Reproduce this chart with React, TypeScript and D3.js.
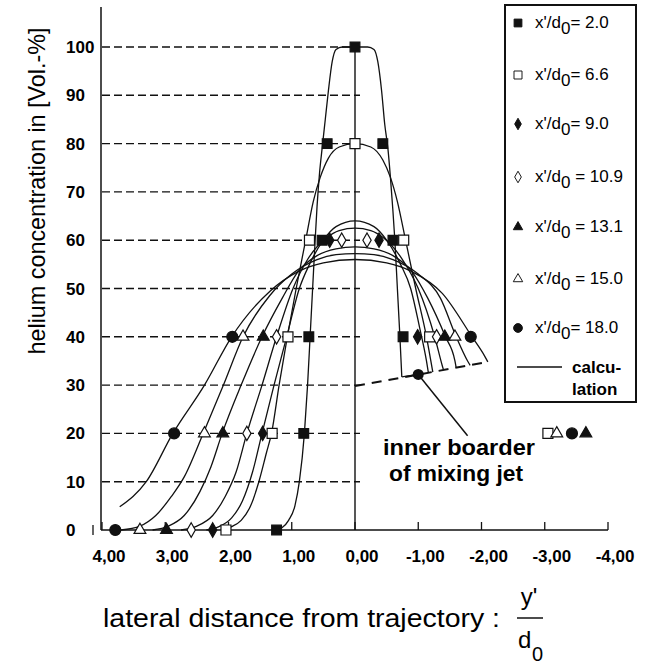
import * as d3 from "d3";

// lateral distance y'/d0 (x) and helium concentration in Vol.-% (y)
const xTicks = [4, 3, 2, 1, 0, -1, -2, -3, -4];
const yTicks = [0, 10, 20, 30, 40, 50, 60, 70, 80, 90, 100];
const xTickLabels = ["4,00", "3,00", "2,00", "1,00", "0,00", "-1,00", "-2,00", "-3,00", "-4,00"];

const seriesLabels = ["= 2.0", "= 6.6", "= 9.0", " = 10.9", " = 13.1", " = 15.0", "= 18.0"];

// measured points
const pts20 = [[0, 100], [0.44, 80], [-0.44, 80], [0.52, 60], [-0.6, 60], [0.73, 40], [-0.76, 40], [0.81, 20], [1.24, 0]];
const pts66 = [[0, 80], [0.72, 60], [-0.77, 60], [1.06, 40], [-1.18, 40], [1.31, 20], [2.04, 0], [-3.05, 20]];
const pts90 = [[0.4, 60], [-0.38, 60], [-0.99, 40], [1.46, 20], [2.25, 0]];
const pts109 = [[0.21, 60], [-0.19, 60], [1.24, 40], [-1.29, 40], [1.71, 20], [2.59, 0]];
const pts131 = [[1.45, 40], [-1.42, 40], [2.09, 20], [2.98, 0], [-3.65, 20]];
const pts150 = [[1.77, 40], [-1.58, 40], [2.38, 20], [3.4, 0], [-3.19, 20]];
const pts180 = [[1.94, 40], [-1.83, 40], [2.86, 20], [3.79, 0], [-3.43, 20]];

// calculation curves
const calc20 = [[1.25, 0], [1.15, 0.5], [1.05, 2], [0.95, 5], [0.88, 10], [0.8, 20], [0.75, 30], [0.71, 40], [0.67, 50], [0.63, 60], [0.6, 67], [0.56, 74], [0.52, 79], [0.47, 85], [0.42, 91], [0.36, 97], [0.3, 99.5], [0.2, 100], [0, 100], [-0.2, 100], [-0.3, 99.5], [-0.36, 97], [-0.42, 91], [-0.47, 84], [-0.52, 79], [-0.56, 73], [-0.6, 66], [-0.63, 60], [-0.67, 50], [-0.71, 40], [-0.74, 31.7]];
const calc66 = [[2.1, 0], [1.95, 0.7], [1.8, 2], [1.65, 5], [1.52, 10], [1.4, 16], [1.32, 20], [1.2, 30], [1.07, 40], [0.93, 50], [0.78, 60], [0.66, 68], [0.55, 73], [0.42, 77], [0.25, 79.3], [0, 80], [-0.25, 79.3], [-0.44, 76.6], [-0.56, 73], [-0.67, 68], [-0.8, 60], [-0.96, 50], [-1.13, 40], [-1.23, 32.7]];
const calc90 = [[2.35, 0], [2.15, 0.7], [1.95, 2.5], [1.78, 6], [1.62, 12], [1.47, 20], [1.28, 30], [1.08, 40], [0.88, 50], [0.72, 55], [0.5, 60], [0.3, 62.8], [0, 64], [-0.3, 62.8], [-0.5, 60], [-0.72, 55], [-0.88, 50], [-1.02, 42], [-1.13, 35], [-1.16, 32.6]];
const calc109 = [[2.75, 0], [2.5, 0.8], [2.25, 3], [2.05, 7], [1.88, 12], [1.71, 20], [1.47, 30], [1.24, 40], [0.98, 50], [0.75, 56], [0.45, 60.5], [0.25, 62], [0, 62.5], [-0.25, 62], [-0.45, 60.5], [-0.75, 56], [-1.0, 50], [-1.26, 40], [-1.38, 34], [-1.4, 33.1]];
const calc131 = [[3.2, 0], [2.95, 0.8], [2.7, 3], [2.45, 8], [2.28, 13], [2.1, 20], [1.8, 30], [1.47, 40], [1.15, 48], [0.9, 53.5], [0.6, 56.8], [0.3, 58.2], [0, 58.6], [-0.3, 58.2], [-0.6, 56.8], [-0.9, 53.5], [-1.15, 48], [-1.43, 40], [-1.58, 35], [-1.6, 33.6]];
const calc150 = [[3.7, 0], [3.4, 0.8], [3.15, 3], [2.9, 7], [2.7, 11], [2.4, 20], [2.08, 30], [1.77, 40], [1.35, 48.5], [1.0, 53], [0.6, 56], [0.3, 57], [0, 57.2], [-0.3, 57], [-0.6, 56], [-1.0, 53], [-1.35, 48], [-1.6, 40], [-1.78, 35], [-1.82, 34.1]];
const calc180 = [[3.72, 4.8], [3.3, 10], [2.88, 20], [2.38, 30], [1.95, 40], [1.34, 49.5], [0.9, 53.5], [0.5, 55.3], [0, 56], [-0.5, 55.3], [-0.9, 53.5], [-1.38, 49], [-1.85, 40], [-2.05, 36], [-2.1, 34.8]];

// inner border of the mixing jet + pointer
const innerBorder = [[0, 29.8], [-2.1, 34.8]];
const pointer = [[-1.0, 32.2], [-1.78, 19.5]];

const symbols = [
  { type: d3.symbolSquare, fill: "#111", size: 95 },
  { type: d3.symbolSquare, fill: "#fff", size: 100 },
  { type: d3.symbolDiamond, fill: "#111", size: 60 },
  { type: d3.symbolDiamond, fill: "#fff", size: 60 },
  { type: d3.symbolTriangle, fill: "#111", size: 60 },
  { type: d3.symbolTriangle, fill: "#fff", size: 60 },
  { type: d3.symbolCircle, fill: "#111", size: 95 },
];
const points = [pts20, pts66, pts90, pts109, pts131, pts150, pts180];
const curves = [calc20, calc66, calc90, calc109, calc131, calc150, calc180];

const font = "'Liberation Sans', Arial, Helvetica, sans-serif";

export default function App() {
  const width = 659, height = 667;
  const x = d3.scaleLinear([4, -4], [102, 608]);
  const y = d3.scaleLinear([0, 100], [530, 47]);

  const line = d3.line<number[]>()
    .x(d => x(d[0]))
    .y(d => y(d[1]))
    .curve(d3.curveMonotoneX);

  const sym = (i: number) => d3.symbol().type(symbols[i].type).size(symbols[i].size)();

  const legendX = 518;
  const legendRows = [23, 75, 124, 177, 227, 279, 328];

  return (
    <svg width={width} height={height} style={{ position: "absolute", left: 0, top: 0, background: "#fff" }}
         fontFamily={font}>
      {/* y axis */}
      <line x1={101} x2={101} y1={7} y2={y(0)} stroke="#111" strokeWidth={1.5}/>
      {/* x axis */}
      <line x1={101} x2={x(-4)} y1={y(0)} y2={y(0)} stroke="#111" strokeWidth={1.5}/>
      {xTicks.map((t, i) => (
        <g key={t}>
          <line x1={x(t)} x2={x(t)} y1={y(0)} y2={y(0) - 8} stroke="#111" strokeWidth={1.3}/>
          <text x={x(t) + 7} y={562} textAnchor="middle" fontSize={17} fontWeight="bold">{xTickLabels[i]}</text>
        </g>
      ))}
      {/* y tick labels, dashed guides */}
      {yTicks.map(t => (
        <g key={t}>
          <text x={66} y={y(t) + 6} fontSize={17} fontWeight="bold">{t}</text>
          {t > 0 && (
            <line x1={102} x2={x(0) + 5} y1={y(t)} y2={y(t)} stroke="#111" strokeWidth={1.4}
                  strokeDasharray="8 4"/>
          )}
        </g>
      ))}
      <line x1={93} x2={93} y1={y(0) - 5} y2={y(0) + 5} stroke="#111" strokeWidth={1.3}/>
      {/* centre line */}
      <line x1={x(0)} x2={x(0)} y1={y(100)} y2={y(0)} stroke="#111" strokeWidth={1.4}/>

      {/* inner border */}
      <path d={d3.line()(innerBorder.map(d => [x(d[0]), y(d[1])]) as [number, number][]) ?? ""}
            fill="none" stroke="#111" strokeWidth={2} strokeDasharray="10 7"/>

      {/* calculation curves */}
      <g fill="none" stroke="#111" strokeWidth={1.3}>
        {curves.map((c, i) => <path key={i} d={line(c) ?? ""}/>)}
      </g>
      {/* short link from 2.0 curve end to border marker */}
      <line x1={x(calc20[calc20.length - 1][0])} y1={y(calc20[calc20.length - 1][1])}
            x2={x(pointer[0][0])} y2={y(pointer[0][1])} stroke="#111" strokeWidth={1.3}/>

      {/* measured points */}
      {points.map((ps, i) => (
        <g key={i} fill={symbols[i].fill} stroke="#111" strokeWidth={1.2}>
          {ps.map((p, j) => (
            <path key={j} d={sym(i) ?? ""} transform={`translate(${x(p[0])},${y(p[1])})`}/>
          ))}
        </g>
      ))}

      {/* pointer */}
      <line x1={x(pointer[0][0])} y1={y(pointer[0][1])} x2={x(pointer[1][0])} y2={y(pointer[1][1])}
            stroke="#111" strokeWidth={1.5}/>
      <circle cx={x(pointer[0][0])} cy={y(pointer[0][1])} r={5.5} fill="#111"/>
      <text x={383} y={455} fontSize={22} fontWeight="bold" textLength={152} lengthAdjust="spacingAndGlyphs">inner boarder</text>
      <text x={389} y={481} fontSize={22} fontWeight="bold" textLength={134} lengthAdjust="spacingAndGlyphs">of mixing jet</text>

      {/* legend */}
      <rect x={505} y={5} width={131} height={397} fill="none" stroke="#111" strokeWidth={2}/>
      {seriesLabels.map((lab, i) => (
        <g key={i}>
          <path d={sym(i) ?? ""} transform={`translate(${legendX},${legendRows[i]}) scale(0.8)`}
                fill={symbols[i].fill} stroke="#111" strokeWidth={1.2}/>
          <text x={535} y={legendRows[i] + 5} fontSize={17}>
            x'/d<tspan dy={6} fontSize={17}>0</tspan><tspan dy={-6}>{lab}</tspan>
          </text>
        </g>
      ))}
      <line x1={517} x2={562} y1={367} y2={367} stroke="#111" strokeWidth={1.3}/>
      <text x={572} y={373} fontSize={17} fontWeight="bold">calcu-</text>
      <text x={572} y={395} fontSize={17} fontWeight="bold">lation</text>

      {/* axis titles */}
      <text transform="translate(45,191) rotate(-90)" textAnchor="middle" fontSize={24}
            textLength={327} lengthAdjust="spacingAndGlyphs">
        helium concentration in [Vol.-%]
      </text>
      <text x={103} y={627} fontSize={25} textLength={397} lengthAdjust="spacingAndGlyphs">lateral distance from trajectory :</text>
      <text x={529} y={605} textAnchor="middle" fontSize={24}>y'</text>
      <line x1={517} x2={543} y1={618} y2={618} stroke="#111" strokeWidth={1.5}/>
      <text x={518} y={648} fontSize={24}>d</text>
      <text x={532} y={661} fontSize={20}>0</text>
    </svg>
  );
}
